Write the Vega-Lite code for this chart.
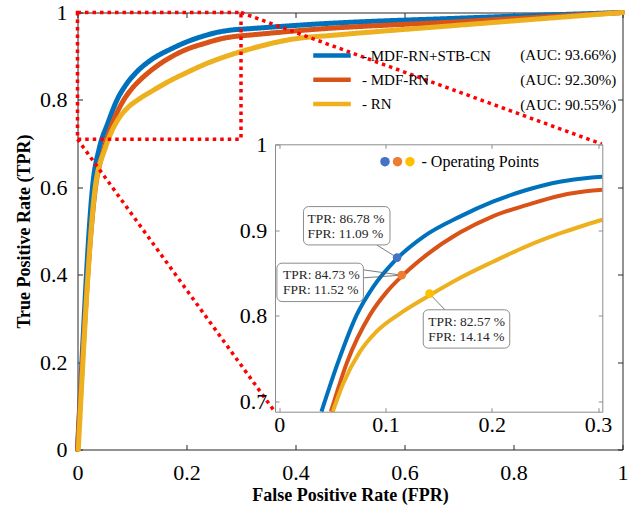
{
  "$schema": "https://vega.github.io/schema/vega-lite/v6.json",
  "width": 545,
  "height": 437,
  "autosize": "none",
  "padding": {"left": 77.5, "top": 12.5, "right": 18.5, "bottom": 64.5},
  "background": "white",
  "config": {"view": {"stroke": null}, "font": "Liberation Serif"},
  "datasets": {
    "roc": [
      {"model": "MDF-RN+STB-CN", "auc": "(AUC: 93.66%)", "fpr": 0, "tpr": 0},
      {"model": "MDF-RN+STB-CN", "auc": "(AUC: 93.66%)", "fpr": 0.003, "tpr": 0.075},
      {"model": "MDF-RN+STB-CN", "auc": "(AUC: 93.66%)", "fpr": 0.029, "tpr": 0.617},
      {"model": "MDF-RN+STB-CN", "auc": "(AUC: 93.66%)", "fpr": 0.0397, "tpr": 0.688},
      {"model": "MDF-RN+STB-CN", "auc": "(AUC: 93.66%)", "fpr": 0.0557, "tpr": 0.747},
      {"model": "MDF-RN+STB-CN", "auc": "(AUC: 93.66%)", "fpr": 0.0729, "tpr": 0.801},
      {"model": "MDF-RN+STB-CN", "auc": "(AUC: 93.66%)", "fpr": 0.0886, "tpr": 0.834},
      {"model": "MDF-RN+STB-CN", "auc": "(AUC: 93.66%)", "fpr": 0.1089, "tpr": 0.8643},
      {"model": "MDF-RN+STB-CN", "auc": "(AUC: 93.66%)", "fpr": 0.1355, "tpr": 0.892},
      {"model": "MDF-RN+STB-CN", "auc": "(AUC: 93.66%)", "fpr": 0.17, "tpr": 0.9156},
      {"model": "MDF-RN+STB-CN", "auc": "(AUC: 93.66%)", "fpr": 0.201, "tpr": 0.933},
      {"model": "MDF-RN+STB-CN", "auc": "(AUC: 93.66%)", "fpr": 0.2326, "tpr": 0.9467},
      {"model": "MDF-RN+STB-CN", "auc": "(AUC: 93.66%)", "fpr": 0.264, "tpr": 0.9564},
      {"model": "MDF-RN+STB-CN", "auc": "(AUC: 93.66%)", "fpr": 0.292, "tpr": 0.961},
      {"model": "MDF-RN+STB-CN", "auc": "(AUC: 93.66%)", "fpr": 0.304, "tpr": 0.962},
      {"model": "MDF-RN+STB-CN", "auc": "(AUC: 93.66%)", "fpr": 0.445, "tpr": 0.974},
      {"model": "MDF-RN+STB-CN", "auc": "(AUC: 93.66%)", "fpr": 0.7, "tpr": 0.987},
      {"model": "MDF-RN+STB-CN", "auc": "(AUC: 93.66%)", "fpr": 1, "tpr": 1},
      {"model": "MDF-RN", "auc": "(AUC: 92.30%)", "fpr": 0, "tpr": 0},
      {"model": "MDF-RN", "auc": "(AUC: 92.30%)", "fpr": 0.032, "tpr": 0.59},
      {"model": "MDF-RN", "auc": "(AUC: 92.30%)", "fpr": 0.0486, "tpr": 0.688},
      {"model": "MDF-RN", "auc": "(AUC: 92.30%)", "fpr": 0.0636, "tpr": 0.745},
      {"model": "MDF-RN", "auc": "(AUC: 92.30%)", "fpr": 0.0854, "tpr": 0.801},
      {"model": "MDF-RN", "auc": "(AUC: 92.30%)", "fpr": 0.101, "tpr": 0.8275},
      {"model": "MDF-RN", "auc": "(AUC: 92.30%)", "fpr": 0.1167, "tpr": 0.8477},
      {"model": "MDF-RN", "auc": "(AUC: 92.30%)", "fpr": 0.1387, "tpr": 0.871},
      {"model": "MDF-RN", "auc": "(AUC: 92.30%)", "fpr": 0.17, "tpr": 0.897},
      {"model": "MDF-RN", "auc": "(AUC: 92.30%)", "fpr": 0.201, "tpr": 0.916},
      {"model": "MDF-RN", "auc": "(AUC: 92.30%)", "fpr": 0.2326, "tpr": 0.929},
      {"model": "MDF-RN", "auc": "(AUC: 92.30%)", "fpr": 0.264, "tpr": 0.94},
      {"model": "MDF-RN", "auc": "(AUC: 92.30%)", "fpr": 0.295, "tpr": 0.946},
      {"model": "MDF-RN", "auc": "(AUC: 92.30%)", "fpr": 0.304, "tpr": 0.947},
      {"model": "MDF-RN", "auc": "(AUC: 92.30%)", "fpr": 0.42, "tpr": 0.96},
      {"model": "MDF-RN", "auc": "(AUC: 92.30%)", "fpr": 0.7, "tpr": 0.979},
      {"model": "MDF-RN", "auc": "(AUC: 92.30%)", "fpr": 1, "tpr": 1},
      {"model": "RN", "auc": "(AUC: 90.55%)", "fpr": 0.0015, "tpr": 0},
      {"model": "RN", "auc": "(AUC: 90.55%)", "fpr": 0.032, "tpr": 0.594},
      {"model": "RN", "auc": "(AUC: 90.55%)", "fpr": 0.0504, "tpr": 0.688},
      {"model": "RN", "auc": "(AUC: 90.55%)", "fpr": 0.0604, "tpr": 0.7214},
      {"model": "RN", "auc": "(AUC: 90.55%)", "fpr": 0.076, "tpr": 0.758},
      {"model": "RN", "auc": "(AUC: 90.55%)", "fpr": 0.0917, "tpr": 0.7816},
      {"model": "RN", "auc": "(AUC: 90.55%)", "fpr": 0.1136, "tpr": 0.8025},
      {"model": "RN", "auc": "(AUC: 90.55%)", "fpr": 0.1393, "tpr": 0.8222},
      {"model": "RN", "auc": "(AUC: 90.55%)", "fpr": 0.17, "tpr": 0.844},
      {"model": "RN", "auc": "(AUC: 90.55%)", "fpr": 0.2012, "tpr": 0.863},
      {"model": "RN", "auc": "(AUC: 90.55%)", "fpr": 0.2326, "tpr": 0.881},
      {"model": "RN", "auc": "(AUC: 90.55%)", "fpr": 0.264, "tpr": 0.896},
      {"model": "RN", "auc": "(AUC: 90.55%)", "fpr": 0.304, "tpr": 0.912},
      {"model": "RN", "auc": "(AUC: 90.55%)", "fpr": 0.4, "tpr": 0.94},
      {"model": "RN", "auc": "(AUC: 90.55%)", "fpr": 0.47, "tpr": 0.948},
      {"model": "RN", "auc": "(AUC: 90.55%)", "fpr": 0.7, "tpr": 0.971},
      {"model": "RN", "auc": "(AUC: 90.55%)", "fpr": 1, "tpr": 1}
    ],
    "ops": [
      {"point": "OP MDF-RN+STB-CN", "fpr": 0.1109, "tpr": 0.8678, "label": "TPR: 86.78 %\nFPR: 11.09 %"},
      {"point": "OP MDF-RN", "fpr": 0.1152, "tpr": 0.8473, "label": "TPR: 84.73 %\nFPR: 11.52 %"},
      {"point": "OP RN", "fpr": 0.1414, "tpr": 0.8257, "label": "TPR: 82.57 %\nFPR: 14.14 %"}
    ]
  },
  "layer": [
    {
      "layer": [
        {
          "data": {"name": "roc"},
          "mark": {"type": "line", "interpolate": "monotone", "strokeWidth": 5, "strokeJoin": "round", "strokeCap": "round"},
          "encoding": {
            "x": {
              "field": "fpr", "type": "quantitative",
              "scale": {"domain": [0, 1], "nice": false, "zero": false},
              "axis": {
                "orient": "bottom", "values": [0, 0.2, 0.4, 0.6, 0.8, 1], "format": "~g",
                "title": "False Positive Rate (FPR)", "titleFont": "Liberation Serif", "titleFontSize": 18,
                "titleFontWeight": "bold", "titleColor": "black", "titlePadding": 3,
                "labelFont": "Liberation Serif", "labelFontSize": 22, "labelColor": "black",
                "labelPadding": 17.5, "labelFlush": false, "labelOverlap": false,
                "tickSize": -5, "tickColor": "#262626", "domainColor": "#262626", "grid": false
              }
            },
            "y": {
              "field": "tpr", "type": "quantitative",
              "scale": {"domain": [0, 1], "nice": false, "zero": false},
              "axis": {
                "orient": "left", "values": [0, 0.2, 0.4, 0.6, 0.8, 1], "format": "~g",
                "title": "True Positive Rate (TPR)", "titleFont": "Liberation Serif", "titleFontSize": 18,
                "titleFontWeight": "bold", "titleColor": "black", "titlePadding": 6,
                "labelFont": "Liberation Serif", "labelFontSize": 22, "labelColor": "black",
                "labelPadding": 15.5, "labelFlush": false, "labelOverlap": false,
                "tickSize": -5, "tickColor": "#262626", "domainColor": "#262626", "grid": false
              }
            },
            "stroke": {
              "field": "model", "type": "nominal",
              "scale": {"domain": ["MDF-RN+STB-CN", "MDF-RN", "RN"], "range": ["#0072BD", "#D95319", "#EDB120"]},
              "legend": {
                "title": null, "orient": "none", "legendX": 244.5, "legendY": 33, "padding": 0,
                "symbolType": "M-2.5,0H2.5", "symbolSize": 225, "symbolStrokeWidth": 4.5,
                "labelFont": "Liberation Serif", "labelFontSize": 15, "labelColor": "black",
                "labelOffset": 20, "rowPadding": 5.3, "labelLimit": 0,
                "labelExpr": "'- ' + datum.label"
              }
            },
            "strokeDash": {
              "field": "auc", "type": "nominal",
              "scale": {"domain": ["(AUC: 93.66%)", "(AUC: 92.30%)", "(AUC: 90.55%)"], "range": [[1, 0], [1, 0], [1, 0]]},
              "legend": {
                "title": null, "orient": "none", "legendX": 425.8, "legendY": 34, "padding": 0,
                "symbolSize": 225, "symbolOpacity": 0,
                "labelFont": "Liberation Serif", "labelFontSize": 15, "labelColor": "black",
                "labelOffset": 0, "rowPadding": 7.8, "labelLimit": 0
              }
            }
          }
        },
        {
          "data": {"values": [{}]},
          "mark": {"type": "rect", "fillOpacity": 0, "stroke": "#ff0000", "strokeWidth": 3.5, "strokeDash": [3.5, 4]},
          "encoding": {
            "x": {
              "datum": 0, "type": "quantitative",
              "axis": {"orient": "top", "values": [0, 0.2, 0.4, 0.6, 0.8, 1], "labels": false, "title": null,
                "tickSize": -5, "tickColor": "#262626", "domainColor": "#262626", "grid": false}
            },
            "x2": {"datum": 0.3},
            "y": {
              "datum": 0.71, "type": "quantitative",
              "axis": {"orient": "right", "values": [0, 0.2, 0.4, 0.6, 0.8, 1], "labels": false, "title": null,
                "tickSize": -5, "tickColor": "#262626", "domainColor": "#262626", "grid": false}
            },
            "y2": {"datum": 1}
          }
        },
        {
          "data": {"values": [{}]},
          "mark": {"type": "rule", "stroke": "#ff0000", "strokeWidth": 3.5, "strokeDash": [3.5, 4]},
          "encoding": {
            "x": {"datum": 0.3, "type": "quantitative", "axis": null},
            "y": {"datum": 1, "type": "quantitative", "axis": null},
            "x2": {"datum": 0.962},
            "y2": {"datum": 0.699}
          }
        },
        {
          "data": {"values": [{}]},
          "mark": {"type": "rule", "stroke": "#ff0000", "strokeWidth": 3.5, "strokeDash": [3.5, 4]},
          "encoding": {
            "x": {"datum": 0, "type": "quantitative", "axis": null},
            "y": {"datum": 0.71, "type": "quantitative", "axis": null},
            "x2": {"datum": 0.362},
            "y2": {"datum": 0.0865}
          }
        }
      ],
      "resolve": {"axis": {"x": "independent", "y": "independent"}}
    },
    {
      "layer": [
        {
          "data": {"values": [{}]},
          "mark": {"type": "rect", "fill": "white", "strokeOpacity": 0},
          "encoding": {
            "x": {
              "datum": -0.004, "type": "quantitative",
              "scale": {"domain": [-0.004, 0.304], "range": [197.5, 524.8], "nice": false, "zero": false},
              "axis": {
                "orient": "bottom", "offset": -37.8, "values": [0, 0.1, 0.2, 0.3], "format": "~g", "title": null,
                "labelFont": "Liberation Serif", "labelFontSize": 22, "labelColor": "black",
                "labelPadding": 6.5, "labelFlush": false, "labelOverlap": false,
                "tickSize": -4, "tickColor": "#8c8c8c", "domainColor": "#8c8c8c", "grid": false, "zindex": 1
              }
            },
            "x2": {"datum": 0.304},
            "y": {
              "datum": 0.688, "type": "quantitative",
              "scale": {"domain": [0.688, 1], "range": [399.2, 131.8], "nice": false, "zero": false},
              "axis": {
                "orient": "left", "offset": -197.5, "values": [0.7, 0.8, 0.9, 1], "format": "~g", "title": null,
                "labelFont": "Liberation Serif", "labelFontSize": 22, "labelColor": "black",
                "labelPadding": 12.3, "labelFlush": false, "labelOverlap": false,
                "tickSize": -4, "tickColor": "#8c8c8c", "domainColor": "#8c8c8c", "grid": false, "zindex": 1
              }
            },
            "y2": {"datum": 1}
          }
        },
        {
          "data": {"name": "roc"},
          "transform": [{"filter": "datum.fpr <= 0.3045 && datum.tpr >= 0.6875"}],
          "mark": {"type": "line", "interpolate": "monotone", "strokeWidth": 4, "strokeJoin": "round"},
          "encoding": {
            "x": {
              "field": "fpr", "type": "quantitative",
              "axis": {"orient": "top", "offset": -131.8, "values": [0, 0.1, 0.2, 0.3], "labels": false, "title": null,
                "tickSize": -4, "tickColor": "#8c8c8c", "domainColor": "#8c8c8c", "grid": false, "zindex": 1}
            },
            "y": {
              "field": "tpr", "type": "quantitative",
              "axis": {"orient": "right", "offset": -20.2, "values": [0.7, 0.8, 0.9, 1], "labels": false, "title": null,
                "tickSize": -4, "tickColor": "#8c8c8c", "domainColor": "#8c8c8c", "grid": false, "zindex": 1}
            },
            "stroke": {"field": "model", "type": "nominal", "legend": null}
          }
        },
        {
          "data": {"name": "ops"},
          "transform": [{"filter": "datum.point === 'OP MDF-RN+STB-CN'"}],
          "layer": [
            {
              "mark": {"type": "rule", "stroke": "#595959", "strokeWidth": 0.8},
              "encoding": {
                "x": {"field": "fpr", "type": "quantitative", "axis": null},
                "y": {"field": "tpr", "type": "quantitative", "axis": null},
                "x2": {"datum": 0.0917},
                "y2": {"datum": 0.8826}
              }
            },
            {
              "mark": {"type": "rect", "fill": "white", "stroke": "#8c8c8c", "strokeWidth": 1, "cornerRadius": 5},
              "encoding": {
                "x": {"datum": 0.0228, "type": "quantitative", "axis": null},
                "x2": {"datum": 0.1042},
                "y": {"datum": 0.8826, "type": "quantitative", "axis": null},
                "y2": {"datum": 0.9273}
              }
            },
            {
              "mark": {"type": "text", "align": "left", "baseline": "middle", "lineBreak": "\n", "lineHeight": 15,
                "font": "Liberation Serif", "fontSize": 13.5, "color": "#262626"},
              "encoding": {
                "x": {"datum": 0.0266, "type": "quantitative", "axis": null},
                "y": {"datum": 0.9125, "type": "quantitative", "axis": null},
                "text": {"field": "label", "type": "nominal"}
              }
            },
            {
              "mark": {"type": "circle", "size": 90, "opacity": 1},
              "encoding": {
                "x": {"datum": 0.0995, "type": "quantitative", "axis": null},
                "y": {"datum": 0.9797, "type": "quantitative", "axis": null},
                "fill": {"field": "point", "type": "nominal", "legend": null}
              }
            }
          ]
        },
        {
          "data": {"name": "ops"},
          "transform": [{"filter": "datum.point === 'OP MDF-RN'"}],
          "layer": [
            {
              "mark": {"type": "rule", "stroke": "#595959", "strokeWidth": 0.8},
              "encoding": {
                "x": {"field": "fpr", "type": "quantitative", "axis": null},
                "y": {"field": "tpr", "type": "quantitative", "axis": null},
                "x2": {"datum": 0.0792},
                "y2": {"datum": 0.8535}
              }
            },
            {
              "mark": {"type": "rule", "stroke": "#595959", "strokeWidth": 0.8},
              "encoding": {
                "x": {"field": "fpr", "type": "quantitative", "axis": null},
                "y": {"field": "tpr", "type": "quantitative", "axis": null},
                "x2": {"datum": 0.0792},
                "y2": {"datum": 0.8442}
              }
            },
            {
              "mark": {"type": "rect", "fill": "white", "stroke": "#8c8c8c", "strokeWidth": 1, "cornerRadius": 5},
              "encoding": {
                "x": {"datum": -0.0022, "type": "quantitative", "axis": null},
                "x2": {"datum": 0.0792},
                "y": {"datum": 0.8165, "type": "quantitative", "axis": null},
                "y2": {"datum": 0.8613}
              }
            },
            {
              "mark": {"type": "text", "align": "left", "baseline": "middle", "lineBreak": "\n", "lineHeight": 15,
                "font": "Liberation Serif", "fontSize": 13.5, "color": "#262626"},
              "encoding": {
                "x": {"datum": 0.0035, "type": "quantitative", "axis": null},
                "y": {"datum": 0.847, "type": "quantitative", "axis": null},
                "text": {"field": "label", "type": "nominal"}
              }
            },
            {
              "mark": {"type": "circle", "size": 90, "opacity": 1},
              "encoding": {
                "x": {"datum": 0.1113, "type": "quantitative", "axis": null},
                "y": {"datum": 0.9797, "type": "quantitative", "axis": null},
                "fill": {"field": "point", "type": "nominal", "legend": null}
              }
            }
          ]
        },
        {
          "data": {"name": "ops"},
          "transform": [{"filter": "datum.point === 'OP RN'"}],
          "layer": [
            {
              "mark": {"type": "rule", "stroke": "#595959", "strokeWidth": 0.8},
              "encoding": {
                "x": {"field": "fpr", "type": "quantitative", "axis": null},
                "y": {"field": "tpr", "type": "quantitative", "axis": null},
                "x2": {"datum": 0.1559},
                "y2": {"datum": 0.8069}
              }
            },
            {
              "mark": {"type": "rect", "fill": "white", "stroke": "#8c8c8c", "strokeWidth": 1, "cornerRadius": 5},
              "encoding": {
                "x": {"datum": 0.1355, "type": "quantitative", "axis": null},
                "x2": {"datum": 0.2169},
                "y": {"datum": 0.7622, "type": "quantitative", "axis": null},
                "y2": {"datum": 0.8069}
              }
            },
            {
              "mark": {"type": "text", "align": "left", "baseline": "middle", "lineBreak": "\n", "lineHeight": 15,
                "font": "Liberation Serif", "fontSize": 13.5, "color": "#262626"},
              "encoding": {
                "x": {"datum": 0.1402, "type": "quantitative", "axis": null},
                "y": {"datum": 0.7929, "type": "quantitative", "axis": null},
                "text": {"field": "label", "type": "nominal"}
              }
            },
            {
              "mark": {"type": "circle", "size": 90, "opacity": 1},
              "encoding": {
                "x": {"datum": 0.123, "type": "quantitative", "axis": null},
                "y": {"datum": 0.9797, "type": "quantitative", "axis": null},
                "fill": {"field": "point", "type": "nominal", "legend": null}
              }
            },
            {
              "mark": {"type": "text", "text": "- Operating Points", "align": "left", "baseline": "middle",
                "font": "Liberation Serif", "fontSize": 16, "color": "black"},
              "encoding": {
                "x": {"datum": 0.1339, "type": "quantitative", "axis": null},
                "y": {"datum": 0.9797, "type": "quantitative", "axis": null}
              }
            }
          ]
        },
        {
          "data": {"name": "ops"},
          "mark": {"type": "circle", "size": 75, "opacity": 1},
          "encoding": {
            "x": {"field": "fpr", "type": "quantitative", "axis": null},
            "y": {"field": "tpr", "type": "quantitative", "axis": null},
            "fill": {
              "field": "point", "type": "nominal",
              "scale": {"domain": ["OP MDF-RN+STB-CN", "OP MDF-RN", "OP RN"], "range": ["#4472C4", "#ED7D31", "#FFC000"]},
              "legend": null
            }
          }
        }
      ],
      "resolve": {"axis": {"x": "independent", "y": "independent"}}
    }
  ],
  "resolve": {"scale": {"x": "independent", "y": "independent"}}
}
